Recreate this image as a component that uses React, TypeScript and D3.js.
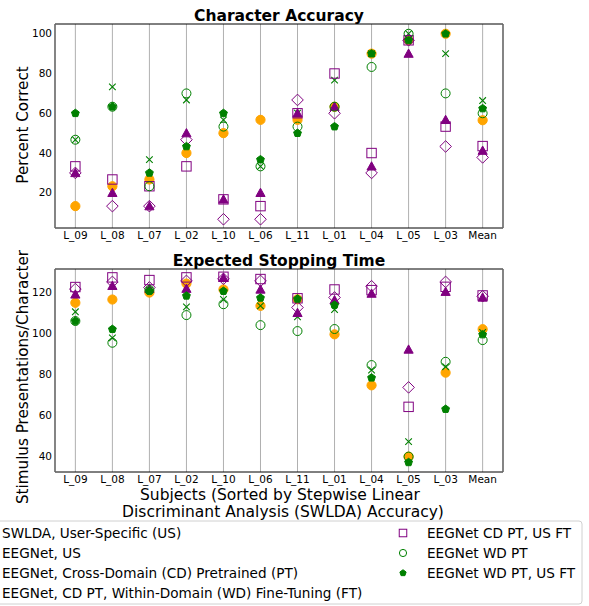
import * as d3 from "d3";

const categories = ["L_09", "L_08", "L_07", "L_02", "L_10", "L_06", "L_11", "L_01", "L_04", "L_05", "L_03", "Mean"];

// Character accuracy (percent correct)
const swldaAcc = [13.3, 23.3, 26.7, 40, 50, 56.7, 56.7, 63.3, 90, 96.7, 100, 56.5];
const eegnetUsAcc = [46.7, 73.3, 36.7, 66.7, 56.7, 33.3, 60, 76.7, 90, 100, 90, 66.4];
const cdPtAcc = [30, 20, 13.3, 50, 16.7, 20, 60, 63.3, 33.3, 90, 56.7, 41.2];
const cdPtWdFtAcc = [30, 13.3, 13.3, 46.7, 6.7, 6.7, 66.7, 60, 30, 96.7, 43.3, 37.8];
const cdPtUsFtAcc = [33.3, 26.7, 23.3, 33.3, 16.7, 13.3, 60, 80, 40, 96.7, 53.3, 43.5];
const wdPtAcc = [46.7, 63.3, 23.3, 70, 53.3, 33.3, 53.3, 63.3, 83.3, 100, 70, 60];
const wdPtUsFtAcc = [60, 63.3, 30, 43.3, 60, 36.7, 50, 53.3, 90, 96.7, 100, 62.4];

// Expected stopping time (stimulus presentations / character)
const swldaEst = [114.8, 116.4, 119.8, 124.2, 121.3, 113.3, 116.5, 99.4, 74.5, 39.7, 80.7, 101.9];
const eegnetUsEst = [110.4, 97.7, 121, 112.8, 116.4, 113.3, 108, 111.5, 82, 47, 83.6, 100.3];
const cdPtEst = [118.9, 123.1, 121.7, 121.7, 127, 121.3, 109.9, 116.1, 119.3, 92, 120.2, 117.4];
const cdPtWdFtEst = [121.5, 125, 122.3, 125.5, 126.5, 125.5, 112.5, 117.4, 122.9, 73.5, 125, 118];
const cdPtUsFtEst = [122.5, 127.2, 125.9, 127.2, 127.5, 126.4, 117, 121.3, 121, 64, 122.6, 118.4];
const wdPtEst = [105.9, 95.3, 121, 108.8, 114.1, 103.9, 101, 102, 84.4, 39.7, 86, 96.6];
const wdPtUsFtEst = [105.9, 101.9, 120.6, 118.2, 120.5, 117.2, 116.7, 113.7, 78.2, 36.9, 62.9, 99.3];

const accTicks = [20, 40, 60, 80, 100];
const estTicks = [40, 60, 80, 100, 120];

const seriesNames = [
  "SWLDA, User-Specific (US)",
  "EEGNet, US",
  "EEGNet, Cross-Domain (CD) Pretrained (PT)",
  "EEGNet, CD PT, Within-Domain (WD) Fine-Tuning (FT)",
  "EEGNet CD PT, US FT",
  "EEGNet WD PT",
  "EEGNet WD PT, US FT",
];

const ORANGE = "#ffa500";
const GREEN = "#008000";
const PURPLE = "#800080";
const FONT = "DejaVu Sans, sans-serif";

const styles = [
  { shape: "circle", color: ORANGE, fill: true },
  { shape: "x", color: GREEN, fill: false },
  { shape: "triangle", color: PURPLE, fill: true },
  { shape: "diamond", color: PURPLE, fill: false },
  { shape: "square", color: PURPLE, fill: false },
  { shape: "circle", color: GREEN, fill: false },
  { shape: "pentagon", color: GREEN, fill: true },
];

function pentagonPath(r: number) {
  const pts = d3.range(5).map((i) => {
    const a = -Math.PI / 2 + (i * 2 * Math.PI) / 5;
    return [r * Math.cos(a), r * Math.sin(a)];
  });
  return "M" + pts.map((p) => p.join(",")).join("L") + "Z";
}

function Marker({ x, y, shape, color, fill, k = 1 }: any) {
  const common = {
    stroke: color,
    strokeWidth: 1,
    fill: fill ? color : "none",
  };
  const t = `translate(${x},${y})`;
  if (shape === "circle") return <circle cx={x} cy={y} r={fill ? 4.6 * k : 4.5 * k} {...common} />;
  if (shape === "square") return <rect x={x - 4.7 * k} y={y - 4.7 * k} width={9.4 * k} height={9.4 * k} {...common} />;
  if (shape === "diamond") {
    const s = 5.8 * k;
    return <path transform={t} d={`M0,${-s}L${s},0L0,${s}L${-s},0Z`} {...common} />;
  }
  if (shape === "triangle") {
    const s = 4.6 * k;
    return <path transform={t} d={`M0,${-s}L${s},${s * 0.8}L${-s},${s * 0.8}Z`} {...common} />;
  }
  if (shape === "pentagon") return <path transform={t} d={pentagonPath(4.1 * k)} {...common} />;
  const s = 3.3 * k;
  return <path transform={t} d={`M${-s},${-s}L${s},${s}M${-s},${s}L${s},${-s}`} stroke={color} strokeWidth={1.1} fill="none" />;
}

const left = 55;
const right = 503;

const x = d3.scaleLinear().domain([-0.55, categories.length - 0.45]).range([left, right]);

function Panel({ top, bottom, domain, ticks, series, title, ylabel, ylabelY }: any) {
  const y = d3.scaleLinear().domain(domain).range([bottom, top]);
  return (
    <g>
      {categories.map((c, i) => (
        <line key={c} x1={x(i)} x2={x(i)} y1={top} y2={bottom} stroke="#b0b0b0" strokeWidth={1} />
      ))}
      {series.map((vals: number[], si: number) =>
        vals.map((v, i) => <Marker key={`${si}-${i}`} x={x(i)} y={y(v)} {...styles[si]} />)
      )}
      <line x1={left} x2={right} y1={top} y2={top} stroke="#000" strokeWidth={1} />
      <line x1={left} x2={right} y1={bottom} y2={bottom} stroke="#000" strokeWidth={1} />
      <line x1={left} x2={left} y1={top} y2={bottom} stroke="#666" strokeWidth={1.6} />
      <line x1={right} x2={right} y1={top} y2={bottom} stroke="#666" strokeWidth={1.6} />
      {ticks.map((t: number) => (
        <text key={t} x={left - 3} y={y(t)} dy="0.35em" textAnchor="end" fontSize={10.5} fontFamily={FONT}>
          {t}
        </text>
      ))}
      {categories.map((c, i) => (
        <text key={c} x={x(i)} y={bottom + 11} textAnchor="middle" fontSize={10.5} fontFamily={FONT}>
          {c}
        </text>
      ))}
      <text x={(left + right) / 2} y={top - 3} textAnchor="middle" fontSize={15.5} fontWeight="bold" fontFamily={FONT}>
        {title}
      </text>
      <text
        transform={`translate(28,${ylabelY}) rotate(-90)`}
        textAnchor="middle"
        fontSize={15.2}
        fontFamily={FONT}
      >
        {ylabel}
      </text>
    </g>
  );
}

export default function App() {
  const accSeries = [swldaAcc, eegnetUsAcc, cdPtAcc, cdPtWdFtAcc, cdPtUsFtAcc, wdPtAcc, wdPtUsFtAcc];
  const estSeries = [swldaEst, eegnetUsEst, cdPtEst, cdPtWdFtEst, cdPtUsFtEst, wdPtEst, wdPtUsFtEst];
  const legendRows = [533, 553, 573, 593];
  return (
    <svg width={589} height={606} style={{ position: "absolute", left: 0, top: 0, display: "block" }}>
      <rect x={0} y={0} width={589} height={606} fill="#fff" />
      <Panel
        top={24}
        bottom={228}
        domain={[2.3, 104.9]}
        ticks={accTicks}
        series={accSeries}
        title="Character Accuracy"
        ylabel="Percent Correct"
        ylabelY={125}
      />
      <Panel
        top={269}
        bottom={472}
        domain={[32.2, 131.3]}
        ticks={estTicks}
        series={estSeries}
        title="Expected Stopping Time"
        ylabel="Stimulus Presentations/Character"
        ylabelY={377}
      />
      <text x={280} y={500} textAnchor="middle" fontSize={15.5} fontFamily={FONT}>
        Subjects (Sorted by Stepwise Linear
      </text>
      <text x={283} y={517} textAnchor="middle" fontSize={15.5} fontFamily={FONT}>
        Discriminant Analysis (SWLDA) Accuracy)
      </text>
      <rect x={-60} y={521} width={642} height={83} rx={3} fill="#fff" stroke="#d0d0d0" strokeWidth={1} />
      {seriesNames.map((name, i) => {
        const col = i < 4 ? 0 : 1;
        const row = i < 4 ? i : i - 4;
        const mx = col === 0 ? -22 : 403;
        const tx = col === 0 ? 2 : 427;
        const yy = legendRows[row];
        return (
          <g key={name}>
            <Marker x={mx} y={yy} {...styles[i]} k={0.8} />
            <text x={tx} y={yy} dy="0.35em" fontSize={13.6} fontFamily={FONT}>
              {name}
            </text>
          </g>
        );
      })}
    </svg>
  );
}
